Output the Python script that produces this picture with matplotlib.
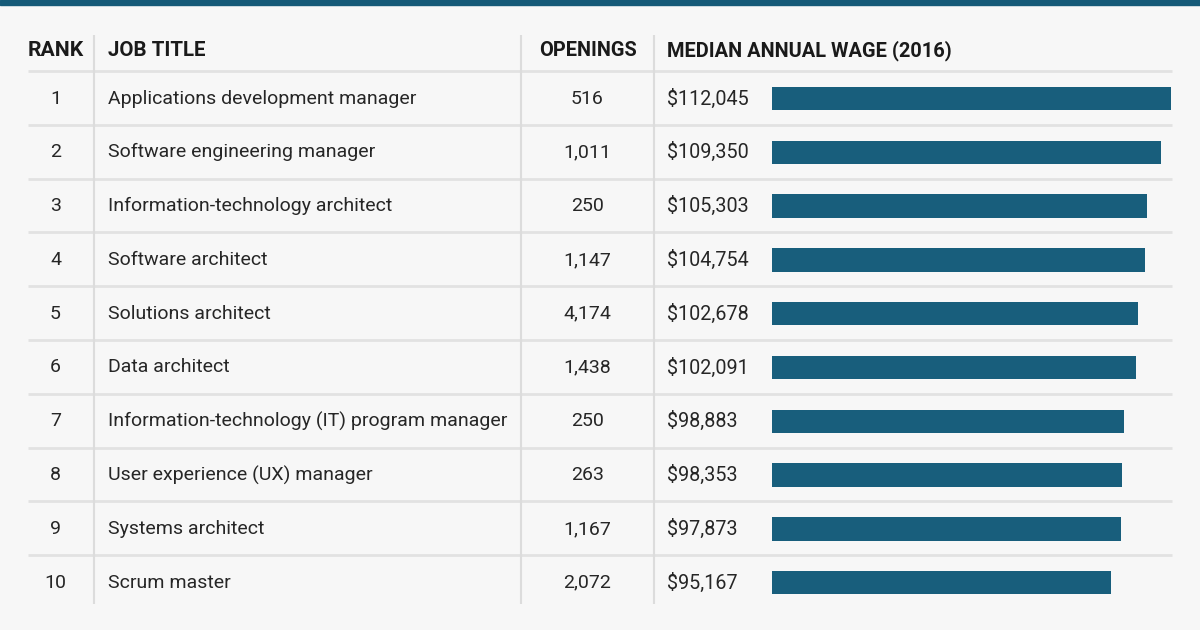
import matplotlib
matplotlib.use("Agg")
import matplotlib.pyplot as plt

ranks = [1, 2, 3, 4, 5, 6, 7, 8, 9, 10]
titles = [
    "Applications development manager",
    "Software engineering manager",
    "Information-technology architect",
    "Software architect",
    "Solutions architect",
    "Data architect",
    "Information-technology (IT) program manager",
    "User experience (UX) manager",
    "Systems architect",
    "Scrum master",
]
openings = [516, 1011, 250, 1147, 4174, 1438, 250, 263, 1167, 2072]
wages = [112045, 109350, 105303, 104754, 102678, 102091, 98883, 98353, 97873, 95167]
headers = ["RANK", "JOB TITLE", "OPENINGS", "MEDIAN ANNUAL WAGE (2016)"]

W, H = 1200, 630
BG = "#f7f7f7"
BAR = "#185e7c"
LINE = "#e2e2e2"
FONT = ["Roboto", "DejaVu Sans"]

fig = plt.figure(figsize=(W / 100, H / 100), dpi=100, facecolor=BG)
ax = fig.add_axes([0, 0, 1, 1])
ax.set_xlim(0, W)
ax.set_ylim(H, 0)
ax.axis("off")
ax.set_facecolor(BG)

# top band
ax.axhspan(0, 5, color="#155a78", zorder=1)

y0, pitch = 98.5, 53.8
header_y = 51
rows_y = [y0 + pitch * i for i in range(len(ranks))]

# horizontal separators
for i in range(len(ranks)):
    yl = rows_y[i] - 27.5
    ax.plot([28, 1172], [yl, yl], color=LINE, lw=2, zorder=2, solid_capstyle="butt")

# vertical separators
for xv in [94, 521, 654]:
    ax.plot([xv, xv], [35, 604], color="#dcdcdc", lw=1.5, zorder=2, solid_capstyle="butt")

hkw = dict(fontweight="bold", color="#1a1a1a", va="center", family=FONT)
ax.text(55.5, header_y, headers[0], ha="center", fontsize=15.2, **hkw)
ax.text(108, header_y, headers[1], ha="left", fontsize=14.8, **hkw)
ax.text(587.5, header_y, headers[2], ha="center", fontsize=14.4, **hkw)
ax.text(667, header_y, headers[3], ha="left", fontsize=14.4, **hkw)

bkw = dict(color="#262626", va="center", family=FONT)
for i in range(len(ranks)):
    y = rows_y[i]
    ax.text(55.5, y, str(ranks[i]), ha="center", fontsize=14.0, **bkw)
    ax.text(108, y, titles[i], ha="left", fontsize=14.0, **bkw)
    ax.text(587.5, y, f"{openings[i]:,}", ha="center", fontsize=14.0, **bkw)
    ax.text(667, y, f"${wages[i]:,}", ha="left", fontsize=14.2, **bkw)

# bar axes
bx = fig.add_axes([772 / W, 0, 399 / W, 1])
bx.set_xlim(0, max(wages))
bx.set_ylim(H, 0)
bx.axis("off")
bx.patch.set_alpha(0)
bx.barh(rows_y, wages, height=23.5, color=BAR, zorder=3)

fig.savefig("out.png", dpi=100, facecolor=BG)
